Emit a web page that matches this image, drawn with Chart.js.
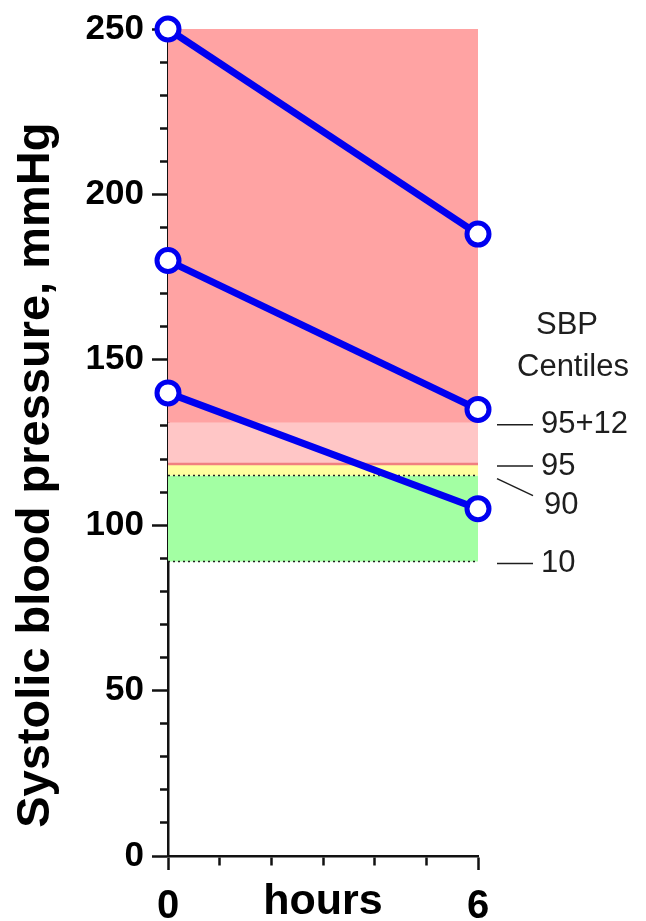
<!DOCTYPE html>
<html>
<head>
<meta charset="utf-8">
<script src="https://cdn.jsdelivr.net/npm/chart.js@4"></script>
<style>
  html, body { margin: 0; padding: 0; background: #ffffff; }
  #wrap { width: 646px; height: 921px; position: relative; }
</style>
</head>
<body>
<div id="wrap"><canvas id="c" width="646" height="921"></canvas></div>
<script>
// ---- data ----
const hours = [0, 6];
const xTickLabels = ['0', '6'];
const yTickLabels = [0, 50, 100, 150, 200, 250];
const patientHigh = [250, 188];
const patientMid = [180, 135];
const patientLow = [140, 105];
const centileNames = ['95+12', '95', '90', '10'];
const centileValues = [131, 118.5, 115, 89];
const yMax = 250;
const axisTitleY = 'Systolic blood pressure, mmHg';
const axisTitleX = 'hours';
const legendTitle = ['SBP', 'Centiles'];

const toPts = (arr) => hours.map((h, i) => ({ x: h, y: arr[i] }));
const flat = (v) => hours.map(h => ({ x: h, y: v }));

const BLUE = '#0000f0';
const patientDs = (arr) => ({
  data: toPts(arr), borderColor: BLUE, borderWidth: 7,
  pointRadius: 11, pointHoverRadius: 11, pointBorderWidth: 5,
  pointBackgroundColor: '#ffffff', pointBorderColor: BLUE,
  fill: false, clip: false, order: 0
});
const bandDs = (top, bottom, color) => ({
  data: flat(top), borderWidth: 0, pointRadius: 0, backgroundColor: color,
  borderColor: 'rgba(0,0,0,0)', fill: { value: bottom }, order: 10
});
const lineDs = (v, color, width, dash) => ({
  data: flat(v), borderWidth: width, borderColor: color, borderDash: dash,
  pointRadius: 0, fill: false, order: 5
});

const annotations = {
  id: 'centileNotes',
  afterDraw(chart) {
    const ctx = chart.ctx;
    const y = chart.scales.y;
    const right = chart.chartArea.right;
    ctx.save();
    ctx.fillStyle = '#1e1e1e';
    ctx.strokeStyle = '#1e1e1e';
    ctx.lineWidth = 1.5;
    ctx.font = '31px "Liberation Sans", Arial, sans-serif';
    ctx.textAlign = 'center';
    ctx.textBaseline = 'middle';
    ctx.fillText(legendTitle[0], 567, 325);
    ctx.fillText(legendTitle[1], 573, 367);
    ctx.textAlign = 'left';
    const x1 = right + 19, x2 = right + 55, tx = right + 63;
    centileNames.forEach((name, i) => {
      const py = y.getPixelForValue(centileValues[i]) + 2;
      if (name === '90') {
        ctx.beginPath(); ctx.moveTo(x1, py + 1); ctx.lineTo(x2, py + 18); ctx.stroke();
        ctx.fillText(name, tx + 3, py + 28);
      } else {
        ctx.beginPath(); ctx.moveTo(x1, py); ctx.lineTo(x2, py); ctx.stroke();
        ctx.fillText(name, tx, py);
      }
    });
    ctx.restore();
  }
};

new Chart(document.getElementById('c'), {
  type: 'line',
  data: {
    datasets: [
      patientDs(patientHigh),
      patientDs(patientMid),
      patientDs(patientLow),
      lineDs(centileValues[1], '#f08080', 2.5, []),
      lineDs(centileValues[2], '#222222', 1.5, [2, 3]),
      lineDs(centileValues[3], '#222222', 1.5, [2, 3]),
      bandDs(yMax, centileValues[0], '#ffa3a3'),
      bandDs(centileValues[0], centileValues[1], '#ffc6c6'),
      bandDs(centileValues[1], centileValues[2], '#ffff9e'),
      bandDs(centileValues[2], centileValues[3], '#a3ffa3')
    ]
  },
  options: {
    responsive: false,
    animation: false,
    events: [],
    layout: { padding: { top: 28, right: 168, bottom: 0, left: 0 } },
    plugins: { legend: { display: false }, tooltip: { enabled: false } },
    scales: {
      x: {
        type: 'linear', min: 0, max: 6,
        afterFit(s) { s.height = 65; },
        border: { color: '#111', width: 2.5 },
        grid: {
          drawOnChartArea: false, tickLength: 14, tickColor: '#111', tickWidth: 2.5,
          tickBorderDash: (c) => (c.tick && (c.tick.value === 0 || c.tick.value === 6)) ? [] : [8, 40]
        },
        ticks: {
          stepSize: 1, padding: 13, color: '#000', autoSkip: false, maxRotation: 0,
          font: { family: '"Liberation Sans", Arial, sans-serif', size: 40, weight: 'bold' },
          callback: (v) => { const i = hours.indexOf(v); return i >= 0 ? xTickLabels[i] : ''; }
        },
        title: {
          display: true, text: axisTitleX, color: '#000',
          font: { family: '"Liberation Sans", Arial, sans-serif', size: 43, weight: 'bold' },
          padding: { top: -50, bottom: -7 }
        }
      },
      y: {
        type: 'linear', min: 0, max: yMax,
        afterFit(s) { s.width = 168; },
        border: { color: '#111', width: 2.5 },
        grid: {
          drawOnChartArea: false, tickLength: 16, tickColor: '#111', tickWidth: 2.5,
          tickBorderDash: (c) => (c.tick && c.tick.value % 50 === 0) ? [] : [0, 8, 40]
        },
        ticks: {
          stepSize: 10, padding: 8, color: '#000', autoSkip: false,
          font: { family: '"Liberation Sans", Arial, sans-serif', size: 35, weight: 'bold' },
          callback: (v) => yTickLabels.includes(v) ? String(v) : ''
        },
        title: {
          display: true, text: axisTitleY + '     ', color: '#000',
          font: { family: '"Liberation Sans", Arial, sans-serif', size: 47, weight: 'bold' },
          padding: { top: 8, bottom: 0 }
        }
      }
    }
  },
  plugins: [annotations]
});
</script>
</body>
</html>
